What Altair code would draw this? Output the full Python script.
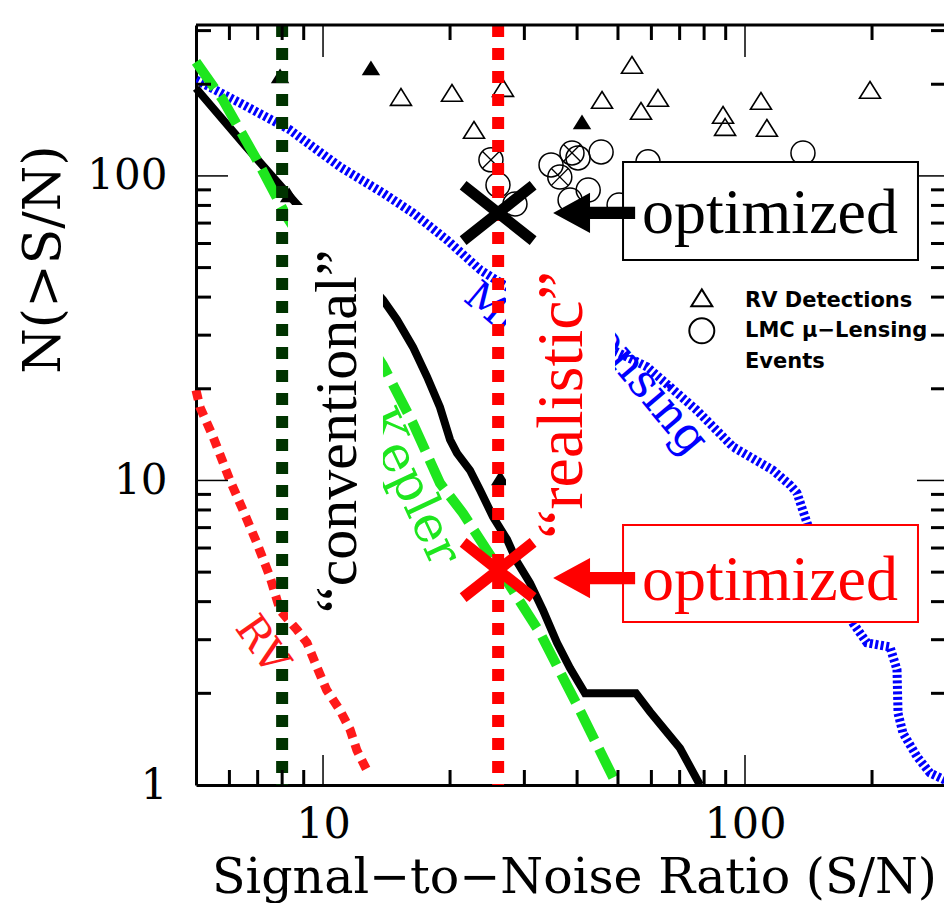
import altair as alt
import pandas as pd

# ---------------- data ----------------
# Kepler "conventional" curve (black, solid)
kep_sn = [5.0, 6.53, 8.58, 13.87, 14.97, 16.34, 17.64, 18.93, 20.0, 20.77, 22.3, 23.55,
          25.28, 27.29, 28.83, 30.95, 33.21, 35.85, 38.48, 41.77, 55.16, 59.55, 70.15, 78.22]
kep_n = [194, 126, 82, 39.2, 33.7, 27.4, 21.9, 17.4, 13.6, 12.3, 10.8, 9.3,
         7.6, 6.4, 5.4, 4.6, 3.75, 2.93, 2.42, 2.0, 2.0, 1.74, 1.32, 1.0]
# Kepler (green, dashed)
kepg_sn = [5.0, 5.79, 6.97, 8.21, 13.87, 16.34, 18.93, 21.46, 25.28, 32.67, 40.6, 49.7]
kepg_n = [236.8, 177.7, 112.9, 73.3, 23.9, 15.4, 9.8, 7.8, 5.5, 3.16, 1.76, 1.0]
# RV (red, dotted)
rv_sn = [5.0, 5.11, 5.49, 6.02, 6.46, 6.97, 7.49, 7.91, 8.68, 9.16, 9.67, 10.2, 10.97, 11.59, 12.03, 12.78]
rv_n = [19.8, 17.4, 13.9, 10.0, 8.0, 6.23, 4.82, 3.75, 3.23, 2.93, 2.44, 2.05, 1.76, 1.52, 1.30, 1.10]
# Microlensing (blue, dotted)
mu_sn = [5.0, 6.36, 8.35, 9.67, 10.97, 13.87, 16.34, 19.67, 23.6, 27.3, 47.1, 58.6, 76.9, 93.6,
         116.5, 127.8, 132.8, 140.3, 159.0, 180.3, 194.6, 220.6, 229.2, 230.5, 236.8, 255.6, 274.4, 306]
mu_n = [206.7, 173.6, 141.6, 121.7, 107.1, 87.9, 75.6, 61.6, 49.1, 43.2, 27.4, 23.6, 17.0, 12.9,
        10.8, 9.67, 9.1, 7.25, 4.89, 3.4, 2.93, 2.84, 2.39, 1.72, 1.48, 1.24, 1.095, 1.02]
# RV detections (open / filled triangles)
tri_sn = [15.30, 20.21, 26.70, 22.79, 53.97, 45.83, 56.69, 62.19, 88.7, 89.7, 109.1, 112.7, 197.8]
tri_n = [181.7, 187.3, 194.5, 141.6, 231.5, 177.7, 163.5, 180.4, 158.6, 144.8, 176.3, 143.8, 191.6]
ftri_sn = [7.91, 12.99, 41.09, 8.31, 26.3]
ftri_n = [213.0, 226.3, 150.4, 86.6, 10.2]
# LMC micro-lensing events (open circles; some crossed)
circ_sn = [25.0, 25.98, 28.5, 34.7, 36.4, 38.9, 40.2, 45.6, 42.5, 38.5, 50.3, 58.9, 137.2]
circ_n = [112.9, 93.4, 80.9, 108.7, 99.2, 119.0, 114.6, 119.9, 89.9, 83.4, 80.3, 111.2, 119.0]
xcirc_sn = [25.0, 36.4, 38.9]
xcirc_n = [112.9, 99.2, 119.0]
# thresholds
conv_sn = [8.0]
real_sn = [26.0]
# "optimized" points
opt_sn = [26.0, 26.0]
opt_n = [75.6, 5.08]
# axis ticks
y_minor = [2, 3, 4, 5, 6, 7, 8, 9, 20, 30, 40, 50, 60, 70, 80, 90, 200, 300]
y_major = [10, 100]
x_minor = [6, 7, 8, 9, 20, 30, 40, 50, 60, 70, 80, 90, 200]
x_major = [10, 100]
y_labels = [1, 10, 100]
x_labels = [10, 100]

# ---------------- geometry / styles ----------------
W, H = 748, 760
xs = alt.Scale(type="log", domain=[5, 296.2], nice=False)
ys = alt.Scale(type="log", domain=[1, 313], nice=False)
SERIF = "DejaVu Serif"
TIMES = "Liberation Serif"

AX = alt.Axis(
    values=x_labels, format="d", ticks=False, tickSize=0, grid=False,
    labelFont=SERIF, labelFontSize=43, labelColor="black", labelPadding=18,
    labelFlush=False, labelOverlap=False,
    domainColor="black", domainWidth=3,
    title="Signal\u2212to\u2212Noise Ratio (S/N)", titleFont=SERIF, titleFontSize=49,
    titleFontWeight="normal", titleColor="black", titleX=378, titleY=107,
    titleAlign="center", titleBaseline="alphabetic")
AY = alt.Axis(
    values=y_labels, format="d", ticks=False, tickSize=0, grid=False,
    labelFont=SERIF, labelFontSize=42, labelColor="black", labelPadding=29,
    labelFlush=False, labelOverlap=False,
    domainColor="black", domainWidth=3,
    title="N(>S/N)", titleFont=SERIF, titleFontSize=52, titleFontWeight="normal",
    titleColor="black", titleAngle=270, titleX=-137, titleY=234,
    titleAlign="center", titleBaseline="alphabetic")


def X(f="sn"):
    return alt.X(f"{f}:Q", scale=xs, axis=AX)


def Y(f="n"):
    return alt.Y(f"{f}:Q", scale=ys, axis=AY)


def df(sn, n, **extra):
    d = pd.DataFrame({"sn": sn, "n": n})
    for k, v in extra.items():
        d[k] = v
    return d


TRI = "M0,-0.8L1,0.8L-1,0.8Z"
XSHAPE = "M-1,-0.79L1,0.79M-1,0.79L1,-0.79"
INX = "M-0.7,-0.7L0.7,0.7M-0.7,0.7L0.7,-0.7"
ARROW = "M-1,0L-0.1,-0.49L-0.1,-0.15L1,-0.15L1,0.15L-0.1,0.15L-0.1,0.49Z"

mu_line = alt.Chart(df(mu_sn, mu_n)).mark_line(
    color="#0000ff", strokeWidth=9, strokeDash=[3, 2.5], clip=True).encode(x=X(), y=Y())
kep_line = alt.Chart(df(kep_sn, kep_n)).mark_line(color="black", strokeWidth=8).encode(x=X(), y=Y())
kepg_line = alt.Chart(df(kepg_sn, kepg_n)).mark_line(
    color="#1ee61e", strokeWidth=10, strokeDash=[32, 10]).encode(x=X(), y=Y())
rv_line = alt.Chart(df(rv_sn, rv_n)).mark_line(
    color="#ff1a1a", strokeWidth=9, strokeDash=[10, 7]).encode(x=X(), y=Y())

tri_open = alt.Chart(df(tri_sn, tri_n)).mark_point(
    shape=TRI, size=441, filled=False, color="black", strokeWidth=1.6, opacity=1).encode(x=X(), y=Y())
tri_fill = alt.Chart(df(ftri_sn, ftri_n)).mark_point(
    shape=TRI, size=340, filled=True, color="black", opacity=1).encode(x=X(), y=Y())
circ = alt.Chart(df(circ_sn, circ_n)).mark_point(
    shape="circle", size=576, filled=False, color="black", strokeWidth=1.5, opacity=1).encode(x=X(), y=Y())
xcirc = alt.Chart(df(xcirc_sn, xcirc_n)).mark_point(
    shape=INX, size=576, filled=False, color="black", strokeWidth=1.3, opacity=1).encode(x=X(), y=Y())

# curve labels ("Microlensing" is split by the white label box in the picture)
lab_mu1 = alt.Chart(df([21.35], [39.2], label=["Micro"])).mark_text(
    font=SERIF, fontSize=40, color="#0000ff", angle=40, align="left", baseline="alphabetic"
).encode(x=X(), y=Y(), text="label:N")
lab_mu2 = alt.Chart(df([73.3], [11.86], label=["lensing"])).mark_text(
    font=SERIF, fontSize=46, color="#0000ff", angle=50, align="right", baseline="alphabetic"
).encode(x=X(), y=Y(), text="label:N")
lab_kep = alt.Chart(df([16.16], [9.52], label=["Kepler"])).mark_text(
    font=SERIF, fontSize=50, color="#1ee61e", angle=65, align="center", baseline="middle"
).encode(x=X(), y=Y(), text="label:N")
lab_rv = alt.Chart(df([7.17], [2.88], label=["RV"])).mark_text(
    font=SERIF, fontSize=42, color="#ff1a1a", angle=55, align="center", baseline="middle"
).encode(x=X(), y=Y(), text="label:N")

# white backgrounds of the rotated labels
mask = alt.Chart(pd.DataFrame({"x1": [8.26, 27.14], "x2": [13.87, 49.2],
                               "y1": [3.43, 6.88], "y2": [80.3, 57.2]})).mark_rect(
    fill="white", strokeWidth=0).encode(x=X("x1"), x2="x2:Q", y=Y("y1"), y2="y2:Q")

vconv = alt.Chart(pd.DataFrame({"sn": conv_sn})).mark_rule(
    color="#003300", strokeWidth=12, strokeDash=[12, 11]).encode(x=X())
vreal = alt.Chart(pd.DataFrame({"sn": real_sn})).mark_rule(
    color="#ff0000", strokeWidth=12, strokeDash=[12, 11]).encode(x=X())

lab_conv = alt.Chart(df([10.85], [14.5], label=["\u201cconventional\u201d"])).mark_text(
    font=TIMES, fontSize=60, color="black", angle=270, align="center", baseline="middle"
).encode(x=X(), y=Y(), text="label:N")
lab_real = alt.Chart(df([36.8], [17.7], label=["\u201crealistic\u201d"])).mark_text(
    font=TIMES, fontSize=66, color="#ff0000", angle=270, align="center", baseline="middle"
).encode(x=X(), y=Y(), text="label:N")

# optimized boxes, arrows, crosses
boxes = alt.Chart(pd.DataFrame({"x1": [51.4, 51.4], "x2": [257, 257],
                                "y1": [53, 3.43], "y2": [111, 7.14],
                                "c": ["black", "#ff0000"]})).mark_rect(
    fill="white", strokeWidth=2).encode(
    x=X("x1"), x2="x2:Q", y=Y("y1"), y2="y2:Q",
    stroke=alt.Stroke("c:N", scale=None))
box_txt = alt.Chart(df([114.6, 114.6], [65.0, 4.05], label=["optimized", "optimized"],
                       c=["black", "#ff0000"])).mark_text(
    font=TIMES, fontSize=64, align="center", baseline="alphabetic").encode(
    x=X(), y=Y(), text="label:N", color=alt.Color("c:N", scale=None))
arrows = alt.Chart(df([43.9, 43.9], [75.6, 4.78], c=["black", "#ff0000"])).mark_point(
    shape=ARROW, size=6724, filled=True, opacity=1).encode(
    x=X(), y=Y(), color=alt.Color("c:N", scale=None))
crosses = alt.Chart(df(opt_sn, opt_n, c=["black", "#ff0000"])).mark_point(
    shape=XSHAPE, size=4900, filled=False, strokeWidth=11, opacity=1).encode(
    x=X(), y=Y(), color=alt.Color("c:N", scale=None))

# legend (hand built)
leg_tri = alt.Chart(df([79], [39.8])).mark_point(
    shape=TRI, size=441, filled=False, color="black", strokeWidth=2, opacity=1).encode(x=X(), y=Y())
leg_circ = alt.Chart(df([79], [31.0])).mark_point(
    shape="circle", size=625, filled=False, color="black", strokeWidth=2, opacity=1).encode(x=X(), y=Y())
leg_txt = alt.Chart(df([100, 100, 100], [37.1, 29.6, 23.4],
                       label=["RV Detections", "LMC \u03bc\u2212Lensing", "Events"])).mark_text(
    font="DejaVu Sans", fontSize=21, fontWeight="bold", color="black",
    align="left", baseline="alphabetic").encode(x=X(), y=Y(), text="label:N")


# inward ticks and top frame
def vt(vals, y0, y1, w):
    return alt.Chart(pd.DataFrame({"v": vals})).mark_rule(color="black", strokeWidth=w).encode(
        x=X("v"), y=alt.value(y0), y2=alt.value(y1))


def ht(vals, x0, x1, w):
    return alt.Chart(pd.DataFrame({"v": vals})).mark_rule(color="black", strokeWidth=w).encode(
        y=Y("v"), x=alt.value(x0), x2=alt.value(x1))


ticks = [
    vt(x_minor, H, H - 15, 3), vt(x_major, H, H - 30, 1.5),
    vt(x_minor, 0, 15, 3), vt(x_major, 0, 32, 1.5),
    ht(y_minor, 0, 15, 3), ht(y_major, 0, 32, 1.5),
    ht(y_minor, W - 13, W, 3), ht(y_major, W - 27, W, 1.5),
]
top_frame = alt.Chart(pd.DataFrame({"v": [1]})).mark_rule(color="black", strokeWidth=3).encode(
    x=alt.value(0), x2=alt.value(W), y=alt.value(0))

chart = alt.layer(
    mu_line, kep_line, kepg_line, rv_line,
    tri_open, tri_fill, circ, xcirc,
    lab_mu1, lab_mu2, lab_kep, lab_rv,
    mask, vconv, vreal,
    lab_conv, lab_real,
    boxes, box_txt, arrows, crosses,
    leg_tri, leg_circ, leg_txt,
    *ticks, top_frame,
).properties(
    width=W, height=H,
    padding={"left": 188, "top": 17, "right": 0, "bottom": 118},
    autosize=alt.AutoSizeParams(type="none"),
    background="white",
).configure_view(stroke=None)

chart.save("out.html", embed_options={"renderer": "svg", "actions": False})
